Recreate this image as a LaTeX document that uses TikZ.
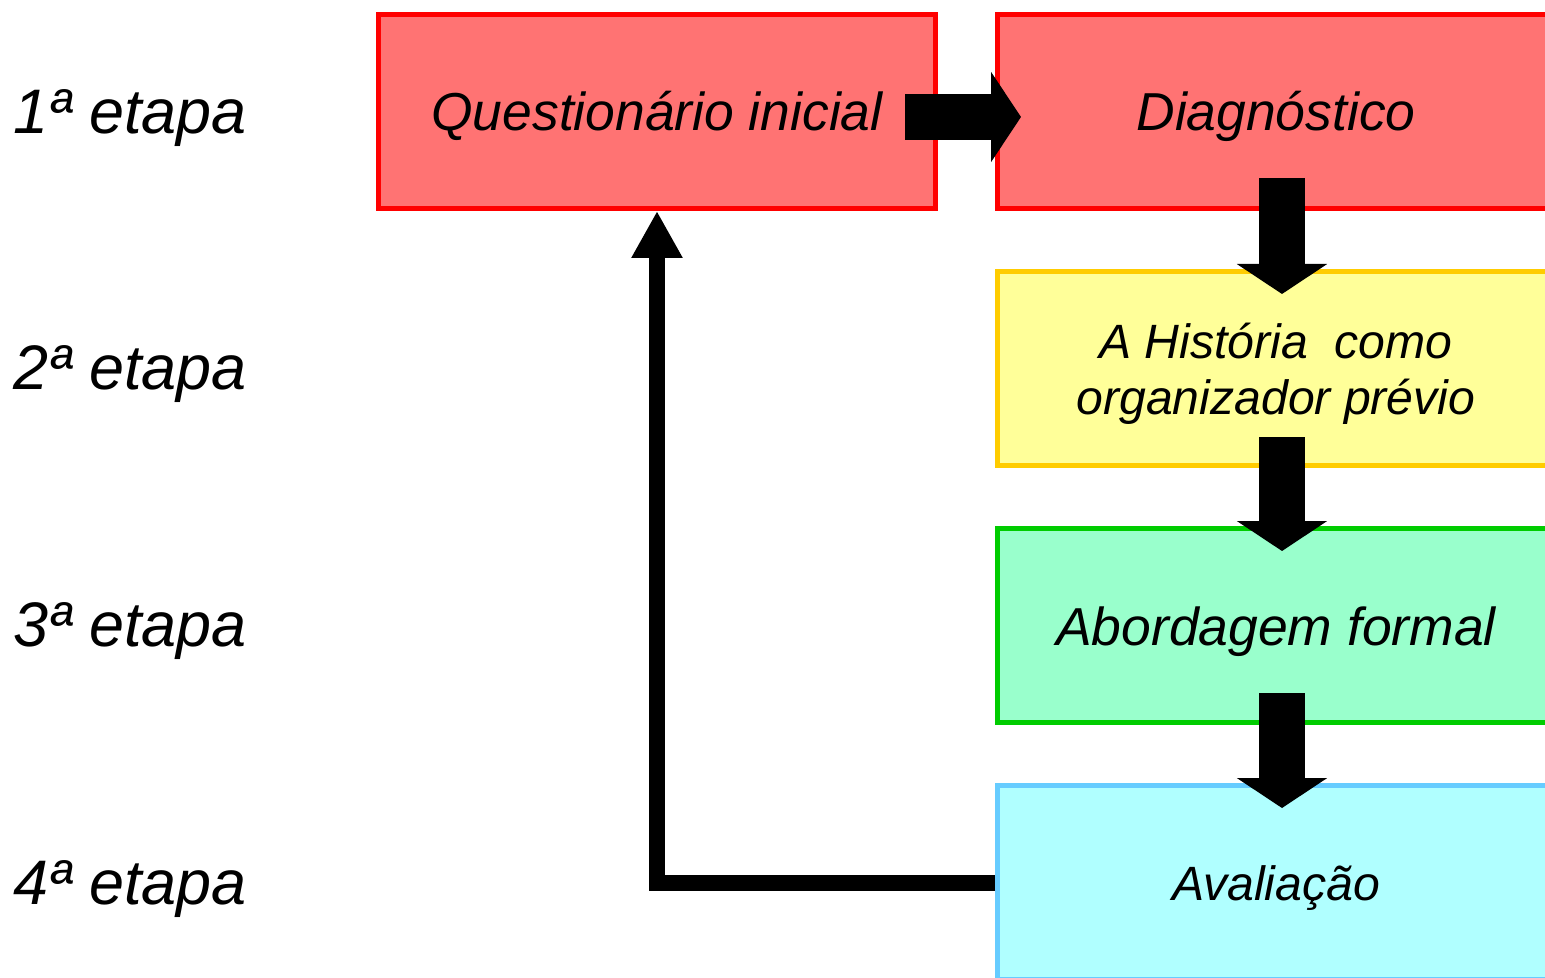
\documentclass[tikz,border=0pt]{standalone}
\usepackage{fontspec}
\setmainfont{Liberation Sans}
\usepackage{xcolor}
\usepackage{tikz}
\usetikzlibrary{positioning, arrows.meta}

\definecolor{redline}{RGB}{255,0,0}
\definecolor{redfill}{RGB}{255,115,115}
\definecolor{yelline}{RGB}{255,204,0}
\definecolor{yelfill}{RGB}{255,255,153}
\definecolor{grnline}{RGB}{0,204,0}
\definecolor{grnfill}{RGB}{153,255,204}
\definecolor{bluline}{RGB}{102,204,255}
\definecolor{blufill}{RGB}{176,255,255}

\begin{document}
\begin{tikzpicture}[
  stagebox/.style={draw=#1line, fill=#1fill, line width=2.85pt,
    minimum width=11.14cm, minimum height=3.88cm, align=center,
    text height=29.7pt, text depth=7.5pt,
    font=\fontsize{30.4}{36}\selectfont\itshape},
  smalltext/.style={font=\fontsize{27.4}{32}\selectfont\itshape},
  etapa/.style={anchor=west, inner sep=0pt, font=\fontsize{35.8}{40}\selectfont\itshape},
  blockarrow/.style={line width=0.93cm, -{Triangle[width=1.78cm, length=0.6cm]}},
  backarrow/.style={line width=0.32cm, -{Triangle[width=0.96cm, length=0.94cm]}}
]
\useasboundingbox (0,0) rectangle (30.9,19.54);
\clip (0,0) rectangle (30.9,19.54);

\node[stagebox=red] (quest) at (13.14,17.31) {Questionário inicial};
\node[stagebox=red] (diag) at (25.52,17.31) {Diagnóstico};
\node[stagebox=yel, smalltext, text height={}, text depth={}, below=1.16cm of diag] (hist) {\rule{0pt}{26.5pt}A História~~como\\organizador prévio};
\node[stagebox=grn, below=1.16cm of hist] (abord) {Abordagem formal};
\node[stagebox=blu, smalltext, text height=27.7pt, text depth=6.7pt, below=1.16cm of abord] (aval) {Avaliação};

\node[etapa] (e1) at (0.26,17.18) {1ª etapa};
\node[etapa] (e2) at (0.26,12.05) {2ª etapa};
\node[etapa] (e3) at (0.26,6.91) {3ª etapa};
\node[etapa] (e4) at (0.26,1.76) {4ª etapa};

\draw[blockarrow] ([shift={(-0.66,-0.11)}]quest.east) -- ([shift={(0.52,-0.11)}]diag.west);
\draw[blockarrow] ([shift={(0.12,0.66)}]diag.south) -- ([shift={(0.12,-0.5)}]hist.north);
\draw[blockarrow] ([shift={(0.12,0.62)}]hist.south) -- ([shift={(0.12,-0.5)}]abord.north);
\draw[blockarrow] ([shift={(0.12,0.64)}]abord.south) -- ([shift={(0.12,-0.5)}]aval.north);

\draw[backarrow] (aval.west) -| (quest.south);
\end{tikzpicture}
\end{document}
